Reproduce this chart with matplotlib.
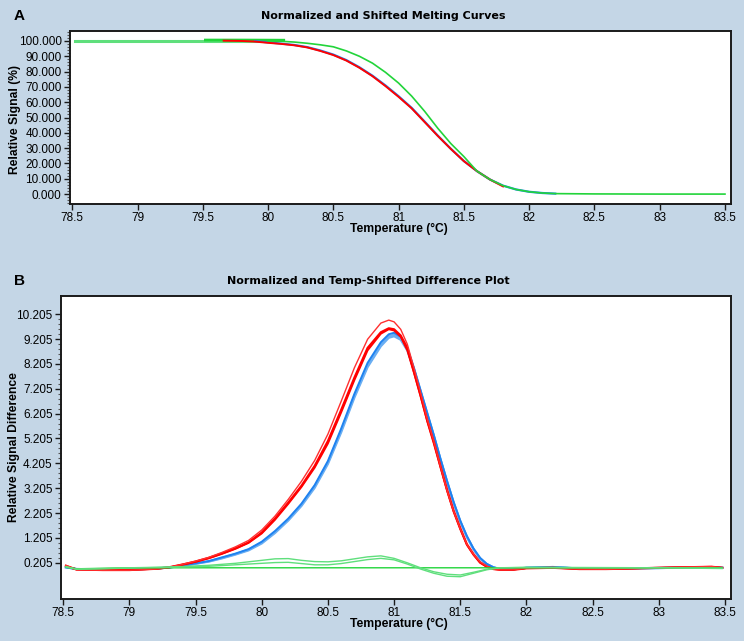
import matplotlib
matplotlib.use("Agg")
import matplotlib.pyplot as plt
from matplotlib.ticker import MultipleLocator, FormatStrFormatter, FixedLocator

plt.rcParams['font.family'] = ['Liberation Sans', 'DejaVu Sans']

# --- ДАННЫЕ: панель A (нормализованные кривые плавления) ---
TA_GREEN = [78.52, 79.0, 79.5, 80.0, 80.1, 80.2, 80.3, 80.4, 80.5, 80.6, 80.7, 80.8, 80.9,
            81.0, 81.1, 81.2, 81.3, 81.4, 81.5, 81.6, 81.7, 81.8, 81.9, 82.0, 82.1, 82.2,
            82.5, 83.0, 83.5]
A_GREEN = [100.0, 100.0, 100.0, 100.0, 99.8, 99.3, 98.5, 97.5, 96.2, 93.5, 90.0, 85.5, 79.5,
           72.5, 64.0, 54.0, 43.0, 33.0, 24.5, 15.0, 9.5, 5.5, 3.0, 1.5, 0.7, 0.3,
           0.1, 0.0, 0.0]
TA_GREEN2 = [79.52, 79.8, 80.12]
A_GREEN2 = [100.6, 100.6, 100.5]

TA_RED = [79.66, 79.8, 79.9, 80.0, 80.1, 80.2, 80.3, 80.4, 80.5, 80.6, 80.7, 80.8, 80.9,
          81.0, 81.1, 81.2, 81.3, 81.4, 81.5, 81.6, 81.7, 81.8]
A_RED = [100.2, 100.0, 99.6, 98.8, 98.1, 97.2, 95.8, 93.5, 90.8, 87.2, 82.5, 77.0, 70.5,
         63.5, 56.0, 47.0, 38.0, 29.5, 21.5, 15.0, 9.5, 5.0]
TA_BLUE = [79.9, 80.0, 80.1, 80.2, 80.3, 80.4, 80.5, 80.6, 80.7, 80.8, 80.9, 81.0, 81.1,
           81.2, 81.3, 81.4, 81.5, 81.6, 81.7, 81.8, 81.9, 82.0, 82.1, 82.2]
A_BLUE = [99.9, 99.1, 98.3, 97.4, 96.0, 93.8, 91.1, 87.5, 82.8, 77.3, 70.9, 63.9, 56.3,
          47.3, 38.2, 29.6, 21.6, 15.0, 9.5, 5.5, 3.0, 1.5, 0.7, 0.3]

# --- ДАННЫЕ: панель B (разностные кривые) ---
TB = [78.52, 78.6, 78.8, 79.0, 79.2, 79.3, 79.4, 79.5, 79.6, 79.7, 79.8, 79.9, 80.0, 80.1,
      80.2, 80.3, 80.4, 80.5, 80.6, 80.7, 80.8, 80.9, 80.96, 81.0, 81.05, 81.1, 81.15,
      81.2, 81.25, 81.3, 81.35, 81.4, 81.45, 81.5, 81.55, 81.6, 81.65, 81.7, 81.75, 81.8,
      81.9, 82.0, 82.2, 82.4, 82.6, 82.8, 83.0, 83.2, 83.4, 83.48]
RED_1 = [0.10, -0.08, -0.10, -0.10, -0.05, 0.02, 0.14, 0.27, 0.42, 0.62, 0.84, 1.10, 1.52, 2.08,
         2.75, 3.48, 4.32, 5.38, 6.70, 8.05, 9.20, 9.85, 9.97, 9.90, 9.60, 9.00, 8.05,
         7.05, 6.00, 5.10, 4.10, 3.12, 2.28, 1.58, 0.95, 0.55, 0.24, 0.07, -0.04, -0.08,
         -0.08, -0.02, 0.00, -0.05, -0.06, -0.03, 0.00, 0.03, 0.05, 0.00]
RED_2 = [0.08, -0.07, -0.09, -0.09, -0.04, 0.02, 0.13, 0.25, 0.40, 0.58, 0.78, 1.02, 1.42, 1.98,
         2.62, 3.30, 4.10, 5.10, 6.35, 7.65, 8.85, 9.48, 9.64, 9.60, 9.35, 8.85, 7.90,
         6.95, 5.95, 5.08, 4.10, 3.15, 2.30, 1.60, 0.95, 0.55, 0.22, 0.05, -0.05, -0.08,
         -0.08, -0.02, 0.00, -0.05, -0.05, -0.03, 0.00, 0.02, 0.04, 0.00]
RED_3 = [0.06, -0.06, -0.08, -0.08, -0.04, 0.01, 0.12, 0.24, 0.38, 0.56, 0.76, 1.00, 1.38, 1.93,
         2.57, 3.25, 4.03, 5.00, 6.25, 7.55, 8.75, 9.42, 9.60, 9.55, 9.30, 8.75, 7.85,
         6.90, 5.90, 5.00, 4.05, 3.10, 2.25, 1.55, 0.92, 0.52, 0.20, 0.04, -0.05, -0.07,
         -0.07, -0.01, 0.00, -0.04, -0.05, -0.02, 0.00, 0.02, 0.03, 0.00]
BLUE_1 = [0.02, -0.05, -0.07, -0.07, -0.03, 0.01, 0.09, 0.18, 0.27, 0.42, 0.57, 0.75, 1.05, 1.48,
          1.98, 2.58, 3.33, 4.30, 5.60, 7.00, 8.25, 9.08, 9.40, 9.46, 9.30, 8.85, 8.05,
          7.15, 6.25, 5.35, 4.40, 3.50, 2.65, 1.90, 1.28, 0.78, 0.40, 0.16, 0.02, -0.05,
          -0.06, 0.00, 0.03, -0.03, -0.04, -0.02, -0.01, 0.01, 0.02, 0.00]
BLUE_2 = [0.02, -0.05, -0.07, -0.07, -0.03, 0.01, 0.09, 0.17, 0.26, 0.40, 0.55, 0.73, 1.02, 1.44,
          1.94, 2.54, 3.28, 4.24, 5.52, 6.92, 8.15, 8.98, 9.32, 9.38, 9.24, 8.80, 8.02,
          7.12, 6.22, 5.33, 4.38, 3.48, 2.63, 1.88, 1.26, 0.76, 0.38, 0.15, 0.02, -0.05,
          -0.06, 0.00, 0.03, -0.03, -0.04, -0.02, -0.01, 0.01, 0.02, 0.00]
BLUE_3 = [0.02, -0.05, -0.07, -0.07, -0.03, 0.01, 0.08, 0.16, 0.25, 0.38, 0.53, 0.70, 0.98, 1.40,
          1.90, 2.49, 3.22, 4.18, 5.45, 6.85, 8.08, 8.92, 9.26, 9.32, 9.18, 8.75, 7.98,
          7.08, 6.18, 5.30, 4.36, 3.46, 2.61, 1.86, 1.24, 0.74, 0.37, 0.14, 0.02, -0.05,
          -0.05, 0.00, 0.03, -0.03, -0.04, -0.02, -0.01, 0.01, 0.02, 0.00]

TB_GREEN = [78.52, 78.6, 78.8, 79.0, 79.2, 79.4, 79.6, 79.8, 80.0, 80.1, 80.2, 80.3, 80.4,
            80.5, 80.6, 80.7, 80.8, 80.9, 81.0, 81.1, 81.2, 81.3, 81.4, 81.5, 81.6, 81.7,
            81.8, 82.0, 82.5, 83.0, 83.48]
GREEN_1 = [0.05, -0.05, -0.03, 0.00, 0.02, 0.05, 0.10, 0.18, 0.30, 0.36, 0.37, 0.30, 0.25,
           0.24, 0.28, 0.36, 0.44, 0.48, 0.38, 0.20, 0.00, -0.16, -0.26, -0.29, -0.18, -0.06,
           0.00, 0.02, 0.01, 0.00, -0.03]
GREEN_2 = [0.03, -0.06, -0.04, -0.01, 0.01, 0.03, 0.06, 0.12, 0.18, 0.21, 0.22, 0.17, 0.12,
           0.12, 0.17, 0.25, 0.33, 0.38, 0.32, 0.15, -0.05, -0.22, -0.34, -0.36, -0.22, -0.08,
           0.00, 0.01, 0.00, 0.00, -0.02]
GREEN_FLAT = [0.02, -0.04, -0.02, 0.00, 0.00, 0.00, 0.00, 0.00, 0.00, 0.00, 0.00, 0.00, 0.00,
              0.00, 0.00, 0.00, 0.00, 0.00, 0.00, 0.00, 0.00, 0.00, 0.00, 0.00, 0.00, 0.00,
              0.00, 0.00, 0.00, 0.00, 0.00]

X_TICKS = [78.5, 79, 79.5, 80, 80.5, 81, 81.5, 82, 82.5, 83, 83.5]
X_LABELS = ["78.5", "79", "79.5", "80", "80.5", "81", "81.5", "82", "82.5", "83", "83.5"]
YA_TICKS = [0, 10, 20, 30, 40, 50, 60, 70, 80, 90, 100]
YB_TICKS = [0.205, 1.205, 2.205, 3.205, 4.205, 5.205, 6.205, 7.205, 8.205, 9.205, 10.205]

BG = "#c4d6e6"
RED = "#ff0000"
BLUE = "#1e82f0"
LBLUE = "#6aaef2"
GREEN = "#22d43a"
LGREEN = "#5fdf7c"


def style_axes(ax):
    ax.set_facecolor("white")
    for s in ax.spines.values():
        s.set_color("#1a1a1a")
        s.set_linewidth(1.4)
    ax.set_xlim(78.483, 83.546)
    ax.xaxis.set_major_locator(FixedLocator(X_TICKS))
    ax.set_xticklabels(X_LABELS)
    ax.tick_params(axis="both", which="major", direction="out", length=4, width=1,
                   labelsize=8.5, pad=2, colors="#1a1a1a", labelcolor="black")
    ax.tick_params(axis="y", which="minor", direction="out", length=2, width=0.8,
                   colors="#555555")
    ax.tick_params(axis="x", which="minor", length=0)


fig = plt.figure(figsize=(7.44, 6.41), dpi=100)
fig.patch.set_facecolor(BG)

# --- ПАНЕЛЬ A ---
axA = fig.add_axes([0.0941, 0.6817, 0.8884, 0.2699])
style_axes(axA)
axA.plot(TA_GREEN[:4], A_GREEN[:4], color=LGREEN, lw=2.2)
axA.plot(TA_GREEN2, A_GREEN2, color=GREEN, lw=2.0)
axA.plot(TA_BLUE, A_BLUE, color=BLUE, lw=1.6)
axA.plot(TA_RED, A_RED, color=RED, lw=1.4)
axA.plot(TA_GREEN[3:], A_GREEN[3:], color=GREEN, lw=1.2)
axA.set_ylim(-6.5, 106.5)
axA.yaxis.set_major_locator(FixedLocator(YA_TICKS))
axA.yaxis.set_minor_locator(MultipleLocator(2))
axA.yaxis.set_major_formatter(FormatStrFormatter("%.3f"))

# --- ПАНЕЛЬ B ---
axB = fig.add_axes([0.0820, 0.0655, 0.9005, 0.4727])
style_axes(axB)
axB.plot(TB, BLUE_3, color=LBLUE, lw=1.6)
axB.plot(TB, BLUE_2, color=LBLUE, lw=1.6)
axB.plot(TB, BLUE_1, color=BLUE, lw=1.4)
axB.plot(TB, RED_3, color=RED, lw=1.3)
axB.plot(TB, RED_2, color=RED, lw=1.6)
axB.plot(TB, RED_1, color="#ff3030", lw=1.0)
axB.plot(TB_GREEN, GREEN_FLAT, color=GREEN, lw=1.0)
axB.plot(TB_GREEN, GREEN_2, color=LGREEN, lw=1.0)
axB.plot(TB_GREEN, GREEN_1, color=LGREEN, lw=1.0)
axB.set_ylim(-1.257, 10.94)
axB.yaxis.set_major_locator(FixedLocator(YB_TICKS))
axB.yaxis.set_minor_locator(FixedLocator([t + k * 0.2 for t in YB_TICKS[:-1] for k in range(1, 5)]))
axB.yaxis.set_major_formatter(FormatStrFormatter("%.3f"))

# --- ПОДПИСИ ---
W, H = 744.0, 641.0


def ftext(x, y, s, **kw):
    fig.text(x / W, 1 - y / H, s, **kw)


ftext(14, 16, "A", fontsize=11, fontweight="bold", ha="left", va="center")
ftext(14, 281, "B", fontsize=11, fontweight="bold", ha="left", va="center")
ftext(383, 16, "Normalized and Shifted Melting Curves", fontsize=8, fontweight="bold",
      ha="center", va="center", family=["DejaVu Sans"])
ftext(368, 281, "Normalized and Temp-Shifted Difference Plot", fontsize=8, fontweight="bold",
      ha="center", va="center", family=["DejaVu Sans"])
ftext(399, 229, "Temperature (°C)", fontsize=8.7, fontweight="bold", ha="center", va="center")
ftext(399, 624, "Temperature (°C)", fontsize=8.7, fontweight="bold", ha="center", va="center")
ftext(15, 119, "Relative Signal (%)", fontsize=8.7, fontweight="bold", rotation=90,
      ha="center", va="center")
ftext(14, 447, "Relative Signal Difference", fontsize=8.7, fontweight="bold", rotation=90,
      ha="center", va="center")

fig.savefig("out.png", dpi=100, facecolor=BG)
